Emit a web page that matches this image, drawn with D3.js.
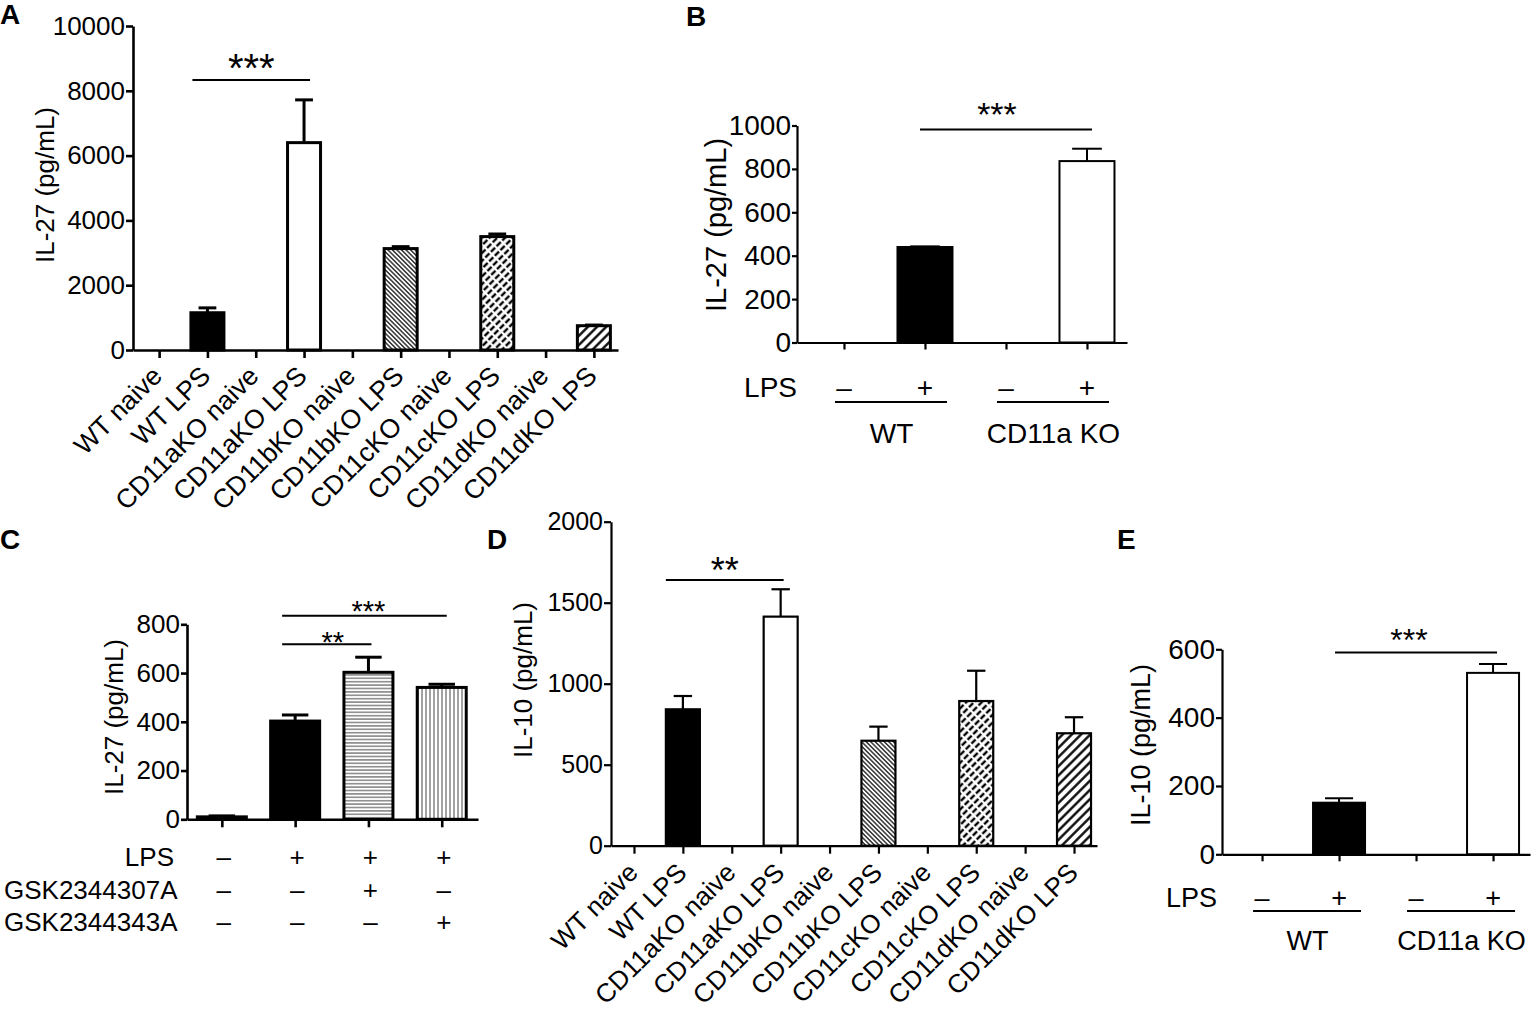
<!DOCTYPE html>
<html><head><meta charset="utf-8">
<script src="https://cdn.jsdelivr.net/npm/d3@7"></script>
<style>
body{margin:0;background:#fff}
svg{display:block}
text{font-family:"Liberation Sans",Arial,sans-serif;fill:#000}
</style>
</head><body>
<svg id="chart" width="1535" height="1010"></svg>
<script>
// ---------- DATA ----------
const integrinCats = ["WT naive","WT LPS","CD11aKO naive","CD11aKO LPS","CD11bKO naive","CD11bKO LPS","CD11cKO naive","CD11cKO LPS","CD11dKO naive","CD11dKO LPS"];
// Panel A: IL-27 (pg/mL)
const valuesA = [0, 1150, 0, 6400, 0, 3130, 0, 3500, 0, 750];
const errorsA = [0, 150, 0, 1320, 0, 60, 0, 80, 0, 20];
const ticksA = [0, 2000, 4000, 6000, 8000, 10000];
// Panel B: IL-27 (pg/mL)
const catsB = ["WT -", "WT +", "CD11a KO -", "CD11a KO +"];
const valuesB = [0, 440, 0, 836];
const errorsB = [0, 3, 0, 57];
const lpsB = ["–", "+", "–", "+"];
const groupsB = ["WT", "CD11a KO"];
const ticksB = [0, 200, 400, 600, 800, 1000];
// Panel C: IL-27 (pg/mL)
const catsC = ["ctrl", "LPS", "LPS+307A", "LPS+343A"];
const valuesC = [10, 403, 603, 541];
const errorsC = [4, 25, 62, 13];
const rowNamesC = ["LPS", "GSK2344307A", "GSK2344343A"];
const lpsC = ["–", "+", "+", "+"];
const gsk307C = ["–", "–", "+", "–"];
const gsk343C = ["–", "–", "–", "+"];
const ticksC = [0, 200, 400, 600, 800];
// Panel D: IL-10 (pg/mL)
const valuesD = [0, 842, 0, 1414, 0, 648, 0, 893, 0, 694];
const errorsD = [0, 82, 0, 169, 0, 87, 0, 187, 0, 99];
const ticksD = [0, 500, 1000, 1500, 2000];
// Panel E: IL-10 (pg/mL)
const catsE = ["WT -", "WT +", "CD11a KO -", "CD11a KO +"];
const valuesE = [0, 151, 0, 531];
const errorsE = [0, 13, 0, 26];
const lpsE = ["–", "+", "–", "+"];
const groupsE = ["WT", "CD11a KO"];
const ticksE = [0, 200, 400, 600];

// ---------- STYLE ----------
const fillsIntegrin = ["none","black","none","white","none","url(#fine)","none","url(#brick)","none","url(#wide)"];
const fillsPair = ["none","black","none","white"];
const fillsC = ["black","black","url(#hlines)","url(#vlines)"];

const svg = d3.select("#chart");
const defs = svg.append("defs");
function pat(id, w, h, rot, draw){
  const p = defs.append("pattern").attr("id", id).attr("patternUnits","userSpaceOnUse")
    .attr("width", w).attr("height", h);
  if (rot) p.attr("patternTransform", `rotate(${rot})`);
  p.append("rect").attr("width", w).attr("height", h).attr("fill", "#fff");
  draw(p);
}
pat("fine", 3.2, 3.2, -45, p => p.append("line").attr("x1",1.6).attr("x2",1.6).attr("y1",0).attr("y2",3.2).attr("stroke","#000").attr("stroke-width",1.2));
pat("brick", 5.5, 8, 45, p => {
  p.append("line").attr("x1",2.75).attr("x2",2.75).attr("y1",0).attr("y2",8).attr("stroke","#000").attr("stroke-width",2.4);
  p.append("line").attr("x1",0).attr("x2",5.5).attr("y1",0).attr("y2",0).attr("stroke","#fff").attr("stroke-width",2.2);
  p.append("line").attr("x1",0).attr("x2",5.5).attr("y1",8).attr("y2",8).attr("stroke","#fff").attr("stroke-width",2.2);
});
pat("wide", 6.5, 6.5, 45, p => p.append("line").attr("x1",3.25).attr("x2",3.25).attr("y1",0).attr("y2",6.5).attr("stroke","#000").attr("stroke-width",2.3));
pat("hlines", 4, 3.4, 0, p => p.append("line").attr("x1",0).attr("x2",4).attr("y1",1.7).attr("y2",1.7).attr("stroke","#444").attr("stroke-width",1));
pat("vlines", 4, 4, 0, p => p.append("line").attr("x1",2).attr("x2",2).attr("y1",0).attr("y2",4).attr("stroke","#444").attr("stroke-width",1));

function panel(c){
  const g = svg.append("g");
  const y = d3.scaleLinear().domain([0, c.max]).range([c.y0, c.yTop]);
  const x = d3.scalePoint().domain(c.cats).range([c.axisX, c.axisRight]).padding(c.pad).align(c.align);
  // bars
  c.cats.forEach((k, i) => {
    const v = c.values[i];
    if (v <= 0) return;
    const cx = x(k);
    const top = y(v + c.errors[i]);
    if (c.errors[i] > 0) {
      g.append("line").attr("x1", cx).attr("x2", cx).attr("y1", y(v)).attr("y2", top)
        .attr("stroke", "#000").attr("stroke-width", c.barStroke);
      g.append("line").attr("x1", cx - c.barW * 0.27).attr("x2", cx + c.barW * 0.27).attr("y1", top).attr("y2", top)
        .attr("stroke", "#000").attr("stroke-width", c.barStroke);
    }
    g.append("rect").attr("x", cx - c.barW / 2).attr("width", c.barW)
      .attr("y", y(v)).attr("height", y(0) - y(v))
      .attr("fill", c.fills[i]).attr("stroke", "#000").attr("stroke-width", c.barStroke);
  });
  // y axis
  const ya = g.append("g").attr("transform", `translate(${c.axisX},0)`)
    .call(d3.axisLeft(y).tickValues(c.ticks).tickSize(c.yTickLen).tickSizeOuter(0).tickPadding(c.tickPad).tickFormat(d3.format("d")));
  ya.select(".domain").attr("stroke-width", c.axisW);
  ya.selectAll(".tick line").attr("stroke-width", c.axisW);
  ya.selectAll(".tick text").attr("font-size", c.tickFont).attr("font-family", null);
  // x axis
  const xa = g.append("g").attr("transform", `translate(0,${c.y0})`)
    .call(d3.axisBottom(x).tickSize(c.xTickLen).tickSizeOuter(0).tickFormat(""));
  xa.select(".domain").attr("stroke-width", c.axisW);
  xa.selectAll(".tick line").attr("stroke-width", c.axisW);
  xa.selectAll(".tick text").remove();
  // rotated category labels
  if (c.rotLabels) {
    c.cats.forEach(k => {
      g.append("text").attr("transform", `translate(${x(k) + c.rotDx},${c.y0 + c.rotDy}) rotate(-45)`)
        .attr("text-anchor", "end").attr("dy", "0.35em").attr("font-size", c.rotFont).text(k);
    });
  }
  // y label
  g.append("text").attr("transform", `translate(${c.yLabelX},${c.yLabelY}) rotate(-90)`)
    .attr("text-anchor", "middle").attr("dy", "0.35em").attr("font-size", c.yLabelFont).text(c.yLabel);
  // significance
  (c.sig || []).forEach(s => {
    const ly = y(s.level);
    const x1 = x(c.cats[s.from]) + s.o1, x2 = x(c.cats[s.to]) + s.o2;
    g.append("line").attr("x1", x1).attr("x2", x2).attr("y1", ly).attr("y2", ly)
      .attr("stroke", "#000").attr("stroke-width", 2);
    g.append("text").attr("x", (x1 + x2) / 2 + (s.tdx || 0)).attr("y", ly + s.tdy)
      .attr("text-anchor", "middle").attr("font-size", s.font).text(s.text);
  });
  // panel letter
  g.append("text").attr("x", c.letterX).attr("y", c.letterY).attr("font-size", 28)
    .attr("font-weight", "bold").text(c.letter);
  return {g, x, y};
}

// Panel A
panel({cats: integrinCats, values: valuesA, errors: errorsA, fills: fillsIntegrin, ticks: ticksA, max: 10000,
  axisX: 133, axisRight: 618, y0: 350, yTop: 26, pad: 0.52, align: 0.52, barW: 33, barStroke: 3, axisW: 2.6,
  yTickLen: 7, xTickLen: 8, tickPad: 1, tickFont: 26, rotLabels: true, rotFont: 26.5, rotDx: -2, rotDy: 21,
  yLabel: "IL-27 (pg/mL)", yLabelX: 45, yLabelY: 185, yLabelFont: 26,
  sig: [{from: 1, to: 3, o1: -15, o2: 6, level: 8330, text: "***", font: 40, tdy: 2}],
  letter: "A", letterX: 0, letterY: 24});

// Panel B
const pB = panel({cats: catsB, values: valuesB, errors: errorsB, fills: fillsPair, ticks: ticksB, max: 1000,
  axisX: 797, axisRight: 1127, y0: 342.5, yTop: 125.5, pad: 0.537, align: 0.54, barW: 55, barStroke: 2, axisW: 2.2,
  yTickLen: 5, xTickLen: 7, tickPad: 1, tickFont: 28, rotLabels: false,
  yLabel: "IL-27 (pg/mL)", yLabelX: 716, yLabelY: 225, yLabelFont: 29,
  sig: [{from: 1, to: 3, o1: -5, o2: 5, level: 982, text: "***", font: 34, tdy: -3, tdx: -9}],
  letter: "B", letterX: 686, letterY: 26});
function pairRows(p, lps, groups, cats, o){
  lps.forEach((s, i) => p.g.append("text").attr("x", p.x(cats[i])).attr("y", o.rowY).attr("dy", "0.36em")
    .attr("text-anchor", "middle").attr("font-size", o.font).text(s));
  p.g.append("text").attr("x", o.lpsX).attr("y", o.rowY).attr("dy", "0.36em").attr("text-anchor", "end")
    .attr("font-size", o.font).text("LPS");
  groups.forEach((gname, j) => {
    const a = p.x(cats[2 * j]), b = p.x(cats[2 * j + 1]);
    p.g.append("line").attr("x1", a - 9).attr("x2", b + 22).attr("y1", o.lineY).attr("y2", o.lineY)
      .attr("stroke", "#000").attr("stroke-width", 2);
    p.g.append("text").attr("x", (a + b) / 2 + 7).attr("y", o.groupY).attr("dy", "0.36em")
      .attr("text-anchor", "middle").attr("font-size", o.font).text(gname);
  });
}
pairRows(pB, lpsB, groupsB, catsB, {rowY: 387, lineY: 402, groupY: 433, lpsX: 797, font: 28});

// Panel C
const pC = panel({cats: catsC, values: valuesC, errors: errorsC, fills: fillsC, ticks: ticksC, max: 800,
  axisX: 187, axisRight: 478, y0: 819.3, yTop: 624.3, pad: 0.485, align: 0.49, barW: 49, barStroke: 3, axisW: 2.6,
  yTickLen: 6, xTickLen: 8, tickPad: 1, tickFont: 26, rotLabels: false,
  yLabel: "IL-27 (pg/mL)", yLabelX: 114, yLabelY: 717, yLabelFont: 26,
  sig: [{from: 1, to: 3, o1: -13, o2: 5, level: 835, text: "***", font: 29, tdy: 5, tdx: 4},
        {from: 1, to: 2, o1: -13, o2: 3, level: 718, text: "**", font: 29, tdy: 8, tdx: 6}],
  letter: "C", letterX: 0, letterY: 549});
[lpsC, gsk307C, gsk343C].forEach((row, r) => {
  const ry = [857, 890, 922][r];
  row.forEach((s, i) => pC.g.append("text").attr("x", pC.x(catsC[i]) + 2).attr("y", ry).attr("dy", "0.36em")
    .attr("text-anchor", "middle").attr("font-size", 26).text(s));
  const t = pC.g.append("text").attr("y", ry).attr("dy", "0.36em").attr("font-size", 26).text(rowNamesC[r]);
  if (r === 0) t.attr("x", 174).attr("text-anchor", "end"); else t.attr("x", 4);
});

// Panel D
panel({cats: integrinCats, values: valuesD, errors: errorsD, fills: fillsIntegrin, ticks: ticksD, max: 2000,
  axisX: 611, axisRight: 1097, y0: 845.7, yTop: 521.7, pad: 0.47, align: 0.5, barW: 34, barStroke: 2.2, axisW: 2.2,
  yTickLen: 7, xTickLen: 8, tickPad: 1, tickFont: 25, rotLabels: true, rotFont: 26, rotDx: -1, rotDy: 22,
  yLabel: "IL-10 (pg/mL)", yLabelX: 523, yLabelY: 680, yLabelFont: 26,
  sig: [{from: 1, to: 3, o1: -17, o2: 3, level: 1640, text: "**", font: 36, tdy: 3}],
  letter: "D", letterX: 487, letterY: 549});

// Panel E
const pE = panel({cats: catsE, values: valuesE, errors: errorsE, fills: fillsPair, ticks: ticksE, max: 600,
  axisX: 1222, axisRight: 1530, y0: 854.3, yTop: 649.3, pad: 0.5, align: 0.52, barW: 52, barStroke: 2, axisW: 2.2,
  yTickLen: 6, xTickLen: 7, tickPad: 1, tickFont: 28, rotLabels: false,
  yLabel: "IL-10 (pg/mL)", yLabelX: 1141, yLabelY: 745, yLabelFont: 27,
  sig: [{from: 1, to: 3, o1: -4, o2: 4, level: 591, text: "***", font: 32, tdy: -1, tdx: -7}],
  letter: "E", letterX: 1117, letterY: 549});
pairRows(pE, lpsE, groupsE, catsE, {rowY: 897, lineY: 911, groupY: 940, lpsX: 1217, font: 27});
</script>
</body></html>
